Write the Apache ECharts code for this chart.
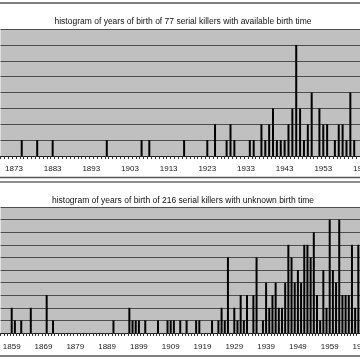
<!DOCTYPE html>
<html><head><meta charset="utf-8">
<script src="https://cdn.jsdelivr.net/npm/echarts@6/dist/echarts.min.js"></script>
<style>html,body{margin:0;padding:0;background:#fff;}#c{width:360px;height:360px;}</style>
</head><body><div id="c"></div>
<script>
// Panel 1: serial killers with available birth time (visible part)
const topTitle = 'histogram of years of birth of 77 serial killers with available birth time';
const topFirstYear = 1870, topLastYear = 1963;
const topBarYears  = [1875,1879,1883,1897,1906,1908,1917,1923,1925,1928,1929,1930,1934,1935,1937,1938,1939,1940,1941,1942,1943,1944,1945,1946,1947,1948,1949,1950,1952,1953,1954,1956,1957,1958,1959,1960,1961];
const topBarCounts = [1,   1,   1,   1,   1,   1,   1,   1,   2,   1,   2,   1,   1,   1,   2,   1,   2,   3,   1,   1,   1,   2,   3,   7,   3,   1,   2,   4,   3,   2,   2,   1,   2,   2,   1,   4,   1];
const topLabelStart = 1873;
const topYMax = 8;

// Panel 2: serial killers with unknown birth time (visible part)
const botTitle = 'histogram of years of birth of 216 serial killers with unknown birth time';
const botFirstYear = 1856, botLastYear = 1969;
const botBarYears  = [1859,1860,1862,1865,1870,1872,1891,1896,1897,1898,1899,1901,1905,1908,1909,1910,1912,1914,1917,1918,1922,1924,1925,1926,1927,1929,1930,1931,1932,1933,1935,1936,1938,1939,1940,1941,1942,1943,1944,1945,1946,1947,1948,1949,1950,1951,1952,1953,1954,1955,1956,1957,1958,1959,1960,1961,1962,1963,1964,1965,1966,1967,1968];
const botBarCounts = [2,   1,   1,   2,   3,   1,   1,   2,   1,   1,   1,   1,   1,   1,   1,   1,   1,   1,   1,   1,   1,   1,   2,   1,   6,   2,   1,   3,   1,   3,   3,   6,   1,   4,   2,   3,   4,   2,   2,   4,   7,   6,   4,   5,   4,   7,   7,   6,   8,   3,   1,   5,   2,   9,   5,   4,   9,   3,   3,   3,   7,   2,   7];
const botLabelStart = 1859;
const botYMax = 10;

function cats(a, b) { const r = []; for (let y = a; y <= b; y++) r.push(String(y)); return r; }
function series(catList, years, counts) {
  const m = {}; years.forEach((y, i) => { m[y] = counts[i]; });
  return catList.map(c => m[+c] || 0);
}
const topCats = cats(topFirstYear, topLastYear);
const botCats = cats(botFirstYear, botLastYear);

const FONT = '"Liberation Sans", Arial, sans-serif';
const topW = 3.866, botW = 3.18;

function xAxisFor(gridIndex, catList, labelStart, margin) {
  return {
    type: 'category', gridIndex, data: catList, boundaryGap: true,
    axisLine: { lineStyle: { color: '#222', width: 1 } },
    axisTick: { show: true, interval: 0, length: 3, lineStyle: { color: '#333', width: 1 } },
    axisLabel: { interval: (i, v) => ((+v - labelStart) % 10 === 0), color: '#222', fontSize: 8, fontFamily: FONT, margin },
    splitLine: { show: false }
  };
}
function yAxisFor(gridIndex, max) {
  return {
    type: 'value', gridIndex, min: 0, max, interval: 1,
    axisLine: { show: false }, axisTick: { show: false }, axisLabel: { show: false },
    splitLine: { show: true, lineStyle: { color: '#4d4d4d', width: 1 } }
  };
}

const chart = echarts.init(document.getElementById('c'), null, { renderer: 'canvas' });
chart.setOption({
  animation: false,
  backgroundColor: '#ffffff',
  title: [
    { text: topTitle, left: 178, textAlign: 'center', top: 12, textStyle: { fontSize: 8.5, fontWeight: 'normal', color: '#111', fontFamily: FONT } },
    { text: botTitle, left: 178, textAlign: 'center', top: 191, textStyle: { fontSize: 8.5, fontWeight: 'normal', color: '#111', fontFamily: FONT } }
  ],
  grid: [
    { left: 0.47, top: 29, width: topW * topCats.length, height: 127, show: true, backgroundColor: '#c0c0c0', borderWidth: 0, outerBoundsMode: 'none', containLabel: false },
    { left: 0.57, top: 207, width: botW * botCats.length, height: 126, show: true, backgroundColor: '#c0c0c0', borderWidth: 0, outerBoundsMode: 'none', containLabel: false }
  ],
  xAxis: [xAxisFor(0, topCats, topLabelStart, 9), xAxisFor(1, botCats, botLabelStart, 10)],
  yAxis: [yAxisFor(0, topYMax), yAxisFor(1, botYMax)],
  series: [
    { type: 'bar', xAxisIndex: 0, yAxisIndex: 0, data: series(topCats, topBarYears, topBarCounts), barWidth: 2, itemStyle: { color: '#000' } },
    { type: 'bar', xAxisIndex: 1, yAxisIndex: 1, data: series(botCats, botBarYears, botBarCounts), barWidth: 2, itemStyle: { color: '#000' } }
  ],
  graphic: [
    { type: 'line', shape: { x1: 0, y1: 3, x2: 360, y2: 3 }, style: { stroke: '#555', lineWidth: 1.5 } },
    { type: 'line', shape: { x1: 0, y1: 177.5, x2: 360, y2: 177.5 }, style: { stroke: '#555', lineWidth: 1.5 } },
    { type: 'line', shape: { x1: 0, y1: 182, x2: 360, y2: 182 }, style: { stroke: '#666', lineWidth: 1.5 } },
    { type: 'line', shape: { x1: 0, y1: 356, x2: 360, y2: 356 }, style: { stroke: '#555', lineWidth: 1.5 } }
  ]
});
</script></body></html>
